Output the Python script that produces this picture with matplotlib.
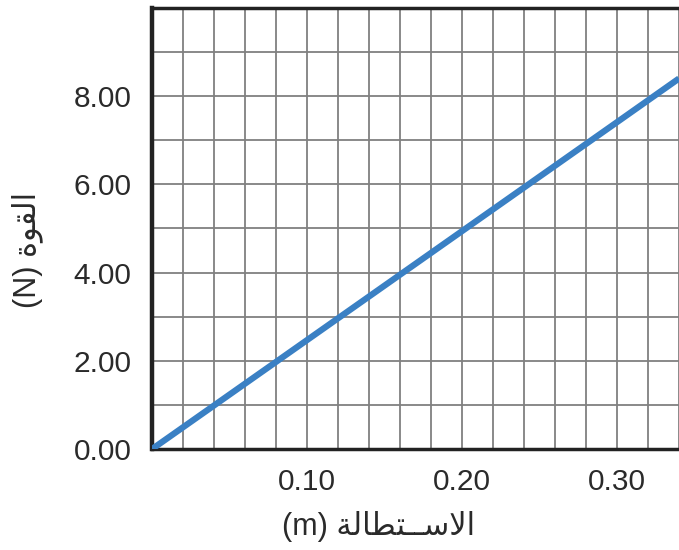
import matplotlib
matplotlib.use("Agg")
import matplotlib.pyplot as plt
from matplotlib.ticker import MultipleLocator, FixedLocator

# data (spring: F = k x, k about 24.7 N/m)
extension = [0.00, 0.10, 0.20, 0.30, 0.34]
force = [0.00, 2.47, 4.94, 7.41, 8.40]
xticks = [0.10, 0.20, 0.30]
xtick_labels = ["0.10", "0.20", "0.30"]
yticks = [0, 2, 4, 6, 8]
ytick_labels = ["0.00", "2.00", "4.00", "6.00", "8.00"]

# arabic written with presentation forms, in visual order (no shaping in matplotlib)
xlab = "(m) " + "\uFE94\uFEDF\uFE8E\uFEC4\uFE98\u0640\u0640\uFEB3\uFEFB\uFE8D"
ylab = "(N) " + "\uFE93\uFEEE\uFED8\uFEDF\uFE8D"

plt.rcParams['font.family'] = ['Liberation Sans', 'DejaVu Sans']

fig = plt.figure(figsize=(6.79, 5.5), dpi=100)
ax = fig.add_axes([0.224, 0.1836, 0.776, 0.802])

ax.plot(extension, force, color="#3a80c4", lw=4.5, solid_capstyle="butt", zorder=3)

ax.set_xlim(0, 0.34)
ax.set_ylim(0, 10)

ax.xaxis.set_major_locator(FixedLocator(xticks))
ax.set_xticklabels(xtick_labels)
ax.xaxis.set_minor_locator(MultipleLocator(0.02))
ax.yaxis.set_major_locator(FixedLocator(yticks))
ax.set_yticklabels(ytick_labels)
ax.yaxis.set_minor_locator(MultipleLocator(1))

ax.grid(which="both", color="#808080", lw=1.3)
ax.set_axisbelow(True)
ax.tick_params(which="both", length=0, labelsize=21.5, colors="#2a2a2a")
ax.tick_params(axis="x", pad=14)
ax.tick_params(axis="y", pad=15)

ax.spines["left"].set_linewidth(3.2)
ax.spines["bottom"].set_linewidth(2.5)
ax.spines["top"].set_linewidth(2.5)
for s in ["left", "bottom", "top"]:
    ax.spines[s].set_color("#222222")
ax.spines["right"].set_visible(False)

fig.text(0.557, 0.042, xlab, fontsize=22, color="#2a2a2a", ha="center", va="center")
fig.text(0.040, 0.545, ylab, fontsize=22, color="#2a2a2a", ha="center", va="center",
         rotation=90)

fig.savefig("out.png", dpi=100)
